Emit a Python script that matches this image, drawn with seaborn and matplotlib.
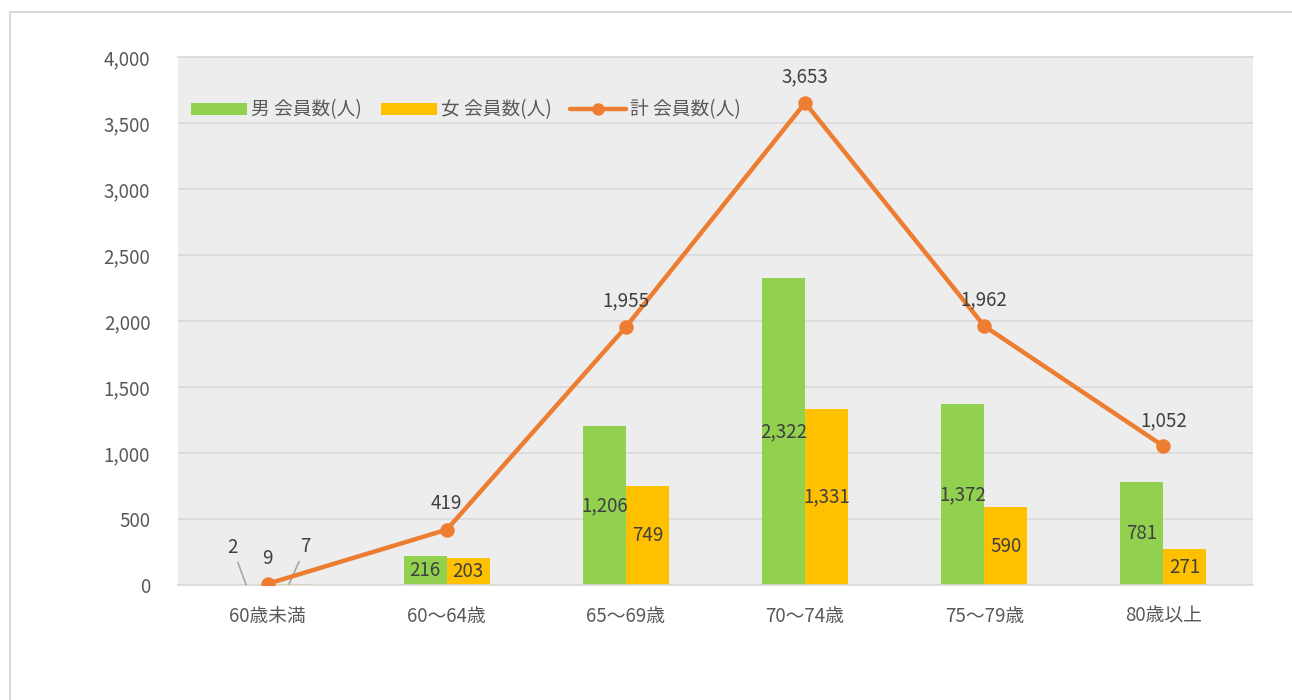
import numpy as np
import pandas as pd
import matplotlib.pyplot as plt
import seaborn as sns
from matplotlib.patches import Patch
from matplotlib.lines import Line2D

# data
categories = ["60歳未満", "60～64歳", "65～69歳", "70～74歳", "75～79歳", "80歳以上"]
male = [2, 216, 1206, 2322, 1372, 781]
female = [7, 203, 749, 1331, 590, 271]
total = [9, 419, 1955, 3653, 1962, 1052]
series_names = ["男 会員数(人)", "女 会員数(人)", "計 会員数(人)"]

c_male = "#92D050"
c_female = "#FFC000"
c_total = "#ED7D31"
fs = 13.5

sns.set_style("white")
plt.rcParams["font.family"] = ["Noto Sans CJK JP", "DejaVu Sans"]

df = pd.DataFrame({
    "cat": categories * 2,
    "value": male + female,
    "series": [series_names[0]] * len(categories) + [series_names[1]] * len(categories),
})

fig = plt.figure(figsize=(12.92, 7), dpi=100)
ax = fig.add_axes([178 / 1292, 115 / 700, 1075 / 1292, 528 / 700])
ax.set_facecolor("#EDEDED")

sns.barplot(data=df, x="cat", y="value", hue="series", order=categories,
            palette=[c_male, c_female], width=0.48, saturation=1, linewidth=0,
            errorbar=None, legend=False, ax=ax, zorder=2)

sns.pointplot(x=categories, y=total, order=categories, color=c_total,
              markers="o", markersize=8, linewidth=3.2, ax=ax, zorder=5)

# bar labels (centered), first group handled separately
for cont in ax.containers[:2]:
    vals = [p.get_height() for p in cont]
    labs = ["" if i == 0 else f"{int(v):,}" for i, v in enumerate(vals)]
    ax.bar_label(cont, labels=labs, label_type="center", fontsize=fs,
                 color="#404040", zorder=6)

# labels for line
for i, v in enumerate(total):
    ax.annotate(f"{v:,}", (i, v), xytext=(0, 11), textcoords="offset points",
                ha="center", va="bottom", fontsize=fs, color="#404040", zorder=6)

# small values of first group with leader lines
m0 = ax.containers[0][0]
f0 = ax.containers[1][0]
ax.annotate(f"{male[0]:,}", (m0.get_x() + m0.get_width() / 2, male[0]),
            xytext=(-10, 27), textcoords="offset points", ha="center", va="center",
            fontsize=fs, color="#404040",
            arrowprops=dict(arrowstyle="-", color="#A6A6A6", lw=1.2, shrinkA=1, shrinkB=0))
ax.annotate(f"{female[0]:,}", (f0.get_x() + f0.get_width() / 2, female[0]),
            xytext=(12, 27), textcoords="offset points", ha="center", va="center",
            fontsize=fs, color="#404040",
            arrowprops=dict(arrowstyle="-", color="#A6A6A6", lw=1.2, shrinkA=1, shrinkB=0))

ax.set_ylim(0, 4000)
ax.set_xlim(-0.5, len(categories) - 0.5)
ax.set_yticks(np.arange(0, 4001, 500))
ax.set_yticklabels([f"{t:,}" for t in range(0, 4001, 500)])
ax.yaxis.grid(True, color="#D9D9D9", lw=1.2, zorder=0)
ax.set_axisbelow(True)
ax.set_xlabel("")
ax.set_ylabel("")
ax.tick_params(axis="both", length=0, labelsize=fs, labelcolor="#595959")
ax.tick_params(axis="y", pad=20)
ax.tick_params(axis="x", pad=15)
for s in ["left", "right"]:
    ax.spines[s].set_visible(False)
ax.spines["bottom"].set_color("#D9D9D9")
ax.spines["bottom"].set_linewidth(1.2)
ax.spines["top"].set_color("#D9D9D9")
ax.spines["top"].set_linewidth(1.2)

handles = [
    Patch(facecolor=c_male, edgecolor="none", label=series_names[0]),
    Patch(facecolor=c_female, edgecolor="none", label=series_names[1]),
    Line2D([], [], color=c_total, lw=3.2, marker="o", markersize=8, label=series_names[2]),
]
leg = ax.legend(handles=handles, loc="upper left", bbox_to_anchor=(0.0, 0.945), ncol=3,
                frameon=False, fontsize=fs, handlelength=3.0, handleheight=0.6,
                handletextpad=0.2, columnspacing=1.0, borderaxespad=0.3)
for t in leg.get_texts():
    t.set_color("#595959")

# outer chart border
fig.add_artist(Line2D([10 / 1292, 10 / 1292], [0, 1 - 12 / 700], color="#D9D9D9", lw=1.5))
fig.add_artist(Line2D([10 / 1292, 1], [1 - 12 / 700, 1 - 12 / 700], color="#D9D9D9", lw=1.5))

fig.savefig("out.png", dpi=100)
